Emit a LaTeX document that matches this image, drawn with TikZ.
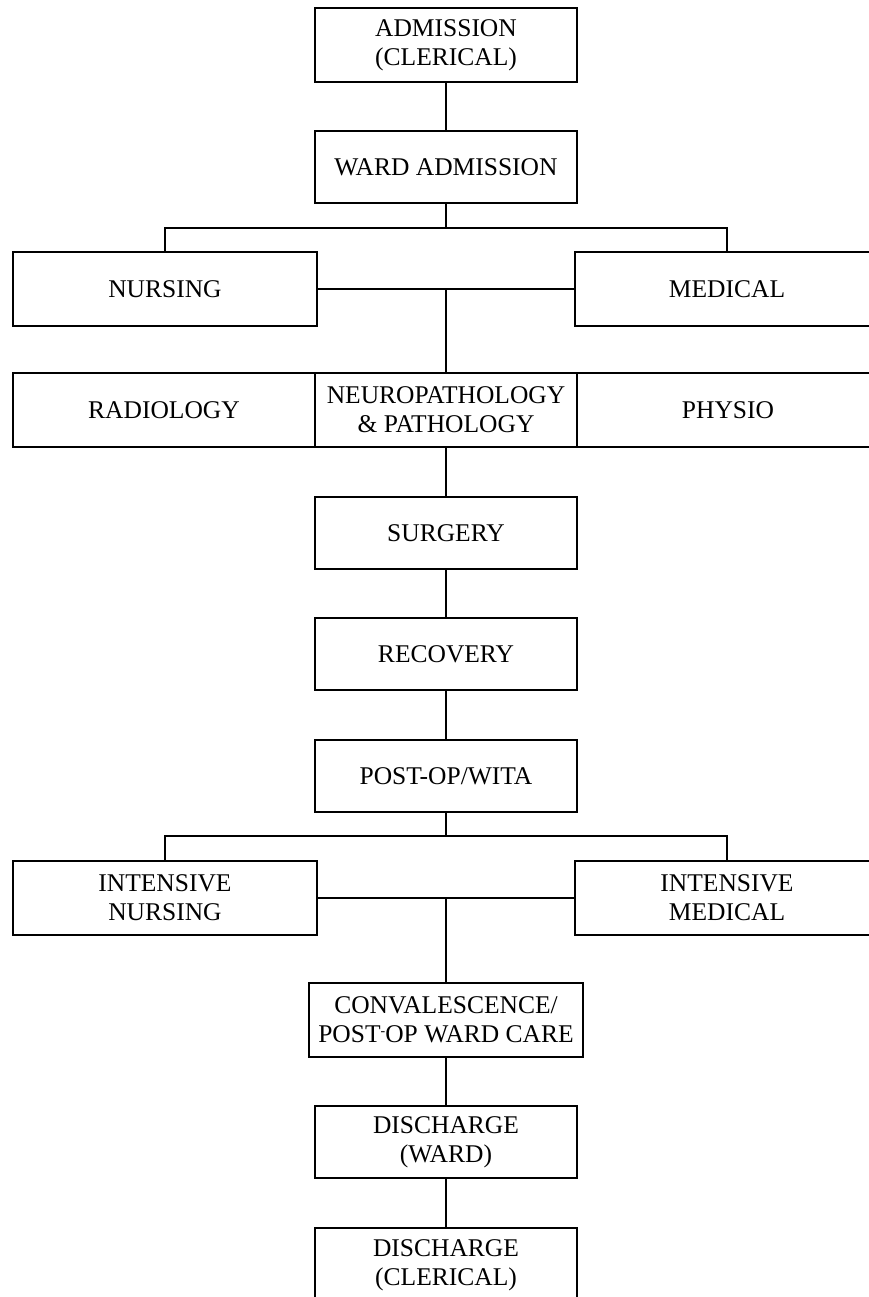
\documentclass[tikz,border=0pt]{standalone}
\usepackage{fontspec}
\setmainfont{Liberation Serif}
\begin{document}
\begin{tikzpicture}[x=1pt,y=-1pt,
  box/.style={draw, line width=1.8pt, inner sep=0pt, align=center,
    font=\fontsize{25.5}{29}\selectfont, minimum height=73pt},
  midbox/.style={box, minimum width=262pt},
  sidebox/.style={box, minimum width=304pt},
  link/.style={line width=1.8pt}]
\fill[white] (0,0) rectangle (868,1297);
\useasboundingbox (0,0) rectangle (868,1297);

\node[midbox, minimum height=74pt] (adm) at (446,45) {ADMISSION\\(CLERICAL)};
\node[midbox, minimum height=72pt] (ward) at (446,167) {WARD ADMISSION};
\node[sidebox, minimum height=74pt] (nurs) at (165,289) {NURSING};
\node[sidebox, minimum height=74pt] (med) at (727,289) {MEDICAL};
\node[sidebox, minimum width=302pt, minimum height=74pt] (rad) at (164,410) {RADIOLOGY};
\node[box, minimum width=262pt, minimum height=74pt] (neuro) at (446,410) {NEUROPATHOLOGY\\\& PATHOLOGY};
\node[sidebox, minimum width=302pt, minimum height=74pt] (phys) at (728,410) {PHYSIO};
\node[midbox, minimum height=72pt] (surg) at (446,533) {SURGERY};
\node[midbox, minimum height=72pt] (rec) at (446,654) {RECOVERY};
\node[midbox, minimum height=72pt] (post) at (446,776) {POST-OP/WITA};
\node[sidebox, minimum height=74pt] (inurs) at (165,898) {INTENSIVE\\NURSING};
\node[sidebox, minimum height=74pt] (imed) at (727,898) {INTENSIVE\\MEDICAL};
\node[box, minimum width=274pt, minimum height=74pt] (conv) at (446,1020) {CONVALESCENCE/\\POST\raisebox{0.28em}{\fontsize{14}{14}\selectfont -}OP WARD CARE};
\node[midbox, minimum height=72pt] (dward) at (446,1142) {DISCHARGE\\(WARD)};
\node[midbox, minimum height=74pt] (dcler) at (446,1265) {DISCHARGE\\(CLERICAL)};

\coordinate (b1) at (446,228);
\coordinate (b1l) at (165,228);
\coordinate (b1r) at (727,228);
\coordinate (j1) at (446,289);
\coordinate (b2) at (446,836);
\coordinate (b2l) at (165,836);
\coordinate (b2r) at (727,836);
\coordinate (j2) at (446,898);

\draw[link] (adm) -- (ward);
\draw[link] (ward.south) -- (b1);
\draw[link] (nurs.north) -- (b1l) -- (b1r) -- (med.north);
\draw[link] (nurs.east) -- (med.west);
\draw[link] (j1) -- (neuro.north);
\draw[link] (neuro.south) -- (surg.north);
\draw[link] (surg) -- (rec);
\draw[link] (rec) -- (post);
\draw[link] (post.south) -- (b2);
\draw[link] (inurs.north) -- (b2l) -- (b2r) -- (imed.north);
\draw[link] (inurs.east) -- (imed.west);
\draw[link] (j2) -- (conv.north);
\draw[link] (conv) -- (dward);
\draw[link] (dward) -- (dcler);
\end{tikzpicture}
\end{document}
